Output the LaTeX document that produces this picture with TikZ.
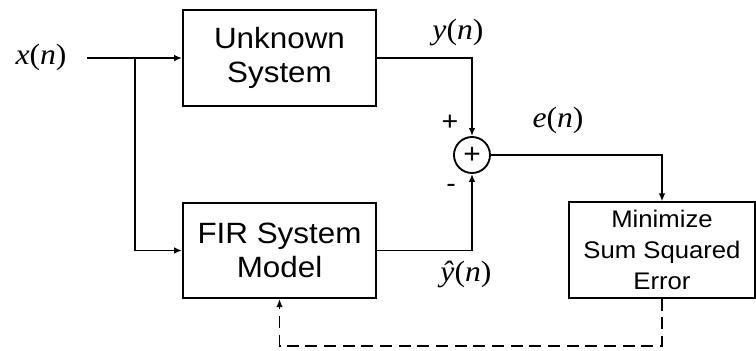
\documentclass[tikz,border=0pt]{standalone}
\usepackage{fontspec}
\setmainfont{Liberation Serif}
\setsansfont{Liberation Sans}
\newfontfamily\boxfont[FakeStretch=1.07]{Liberation Sans}
\newfontfamily\labelfont[FakeStretch=1.08]{Liberation Serif}
\usetikzlibrary{arrows.meta}

\tikzset{
  BlockStyle/.style={draw, line width=1.4pt, minimum width=144.75pt, minimum height=71.5pt,
    align=center, inner sep=0pt, font=\boxfont\fontsize{22}{26}\selectfont},
  SmallBlock/.style={BlockStyle, minimum width=140pt,
    font=\boxfont\fontsize{18}{23.5}\selectfont},
  SumStyle/.style={draw, circle, line width=1.4pt, minimum size=27pt, inner sep=0pt,
    font=\boxfont\fontsize{21}{22}\selectfont},
  SigLabel/.style={font=\labelfont\fontsize{22}{24}\selectfont},
  SignLabel/.style={font=\boxfont\fontsize{20}{22}\selectfont},
  Wire/.style={line width=1.4pt, -{Latex[length=6pt,width=5pt]}}
}

\begin{document}
\begin{tikzpicture}[x=0.75pt,y=-0.75pt]
  \useasboundingbox (0,0) rectangle (756,350);

  % blocks
  \node[BlockStyle] (unk) at (279.5,58) {Unknown\\System};
  \node[BlockStyle] (fir) at (279.5,250.5) {FIR System\\Model};
  \node[SmallBlock] (mse) at (662,250) {Minimize\\Sum Squared\\Error};
  \node[SumStyle] (sum) at (472,155) {+};

  % signal labels
  \node[SigLabel] (xlab) at (41,57) {\textit{x}(\textit{n})};
  \node[SigLabel] (ylab) at (458,32) {\textit{y}(\textit{n})};
  \node[SigLabel] (elab) at (558,120) {\textit{e}(\textit{n})};
  \node[SigLabel] (yhlab) at (466,274) {\textit{ŷ}(\textit{n})};
  \node[SignLabel] (plus) at (450,123) {+};
  \node[SignLabel] (minus) at (451,188) {-};

  \coordinate (in) at (87,58);
  \coordinate (split) at (135,58);
  \coordinate (fb) at (662,346);

  % connections
  \draw[Wire] (in) -- (unk.west);
  \draw[Wire] (split) |- (fir.west);
  \draw[Wire] (unk.east) -| (sum.north);
  \draw[Wire] (fir.east) -| (sum.south);
  \draw[Wire] (sum.east) -| (mse.north);
  \draw[Wire, dash pattern=on 9pt off 5pt] (mse.south) -- (fb) -| (fir.south);
\end{tikzpicture}
\end{document}
